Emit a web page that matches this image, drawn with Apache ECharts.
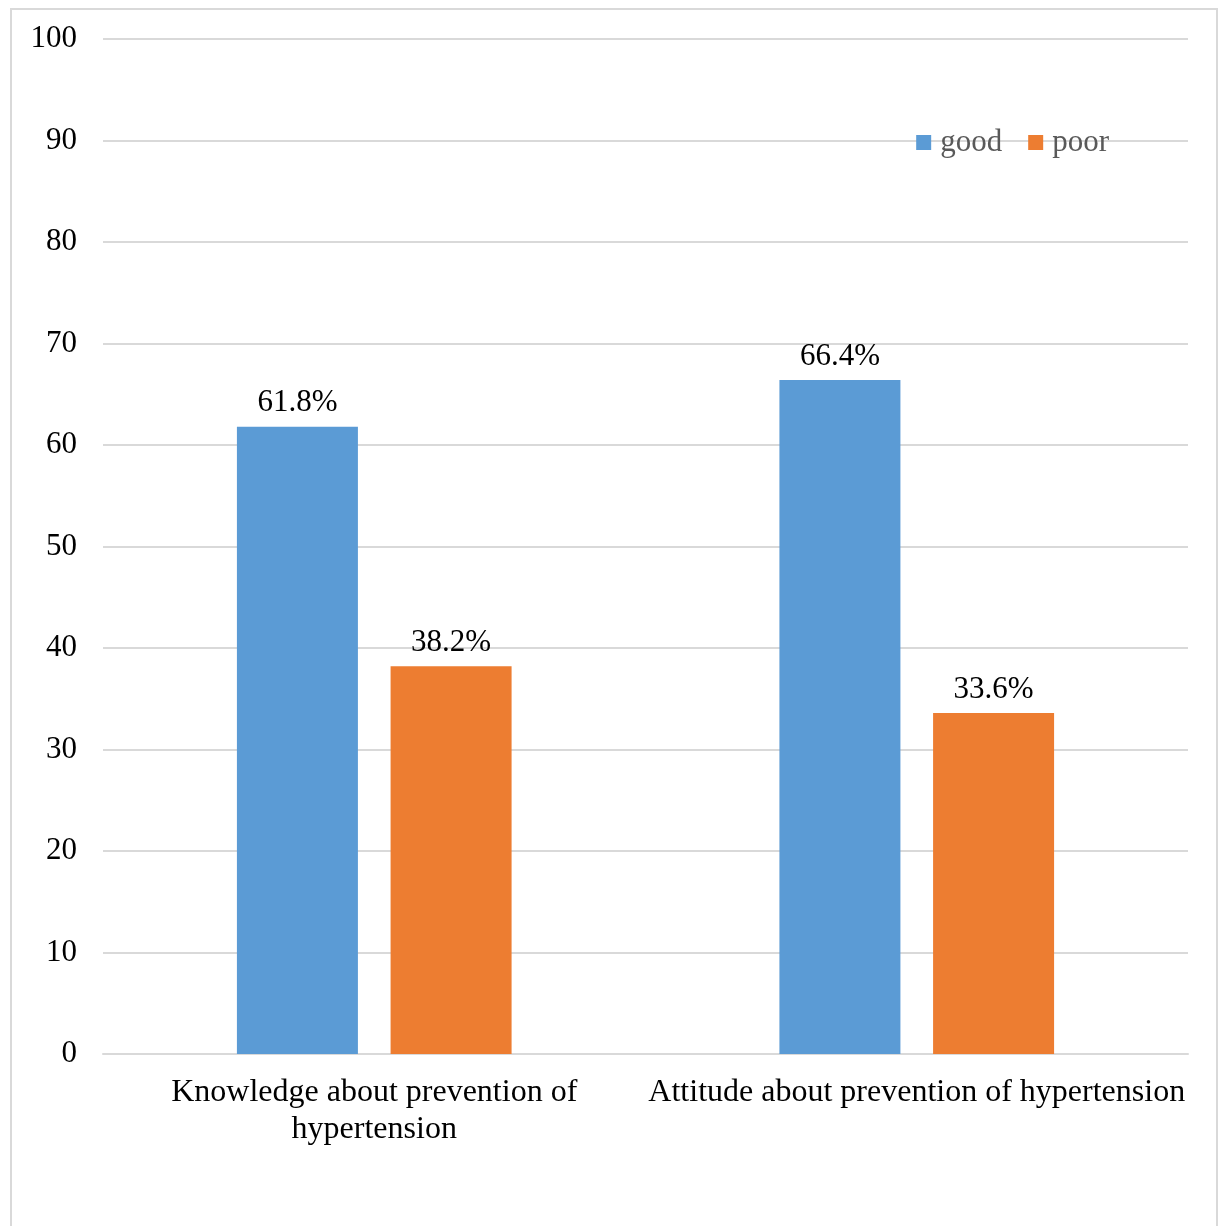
<!DOCTYPE html>
<html>
<head>
<meta charset="utf-8">
<script src="https://cdn.jsdelivr.net/npm/echarts@6/dist/echarts.min.js"></script>
<style>
  html, body { margin: 0; padding: 0; background: #fff; }
  #chart { width: 1220px; height: 1226px; }
</style>
</head>
<body>
<div id="chart"></div>
<script>
const categories = ['Knowledge about prevention of\nhypertension', 'Attitude about prevention of hypertension']
const goodValues = [61.8, 66.4]
const poorValues = [38.2, 33.6]
const seriesNames = ['good', 'poor']

const serif = '"Liberation Serif", "Times New Roman", serif'

const chart = echarts.init(document.getElementById('chart'))

const labelStyle = {
  show: true,
  position: 'top',
  distance: 8,
  color: '#000',
  fontFamily: serif,
  fontSize: 31,
  formatter: (p) => p.value.toFixed(1) + '%'
}

chart.setOption({
  backgroundColor: '#fff',
  animation: false,
  graphic: [{
    type: 'rect',
    shape: { x: 11, y: 9, width: 1206, height: 1240 },
    style: { fill: 'none', stroke: '#d9d9d9', lineWidth: 2 },
    silent: true
  }],
  legend: {
    data: seriesNames,
    right: 106,
    top: 122,
    itemWidth: 15,
    itemHeight: 15,
    itemGap: 26,
    icon: 'rect',
    textStyle: { color: '#595959', fontFamily: serif, fontSize: 31, padding: [0, 0, 0, 4] }
  },
  grid: { left: 103, right: 32, top: 39, bottom: 172 },
  xAxis: {
    type: 'category',
    data: categories,
    axisLine: { lineStyle: { color: '#d9d9d9', width: 2 } },
    axisTick: { show: false },
    axisLabel: {
      color: '#000',
      fontFamily: serif,
      fontSize: 32,
      lineHeight: 37,
      margin: 20,
      interval: 0
    }
  },
  yAxis: {
    type: 'value',
    min: 0,
    max: 100,
    interval: 10,
    axisLine: { show: false },
    axisTick: { show: false },
    axisLabel: { color: '#000', fontFamily: serif, fontSize: 31, margin: 26 },
    splitLine: { lineStyle: { color: '#d9d9d9', width: 2 } }
  },
  series: [
    {
      name: seriesNames[0],
      type: 'bar',
      data: goodValues,
      barWidth: 121,
      barGap: '27%',
      itemStyle: { color: '#5b9bd5' },
      label: labelStyle
    },
    {
      name: seriesNames[1],
      type: 'bar',
      data: poorValues,
      barWidth: 121,
      itemStyle: { color: '#ed7d31' },
      label: labelStyle
    }
  ]
})

window.addEventListener('resize', () => chart.resize())
</script>
</body>
</html>
